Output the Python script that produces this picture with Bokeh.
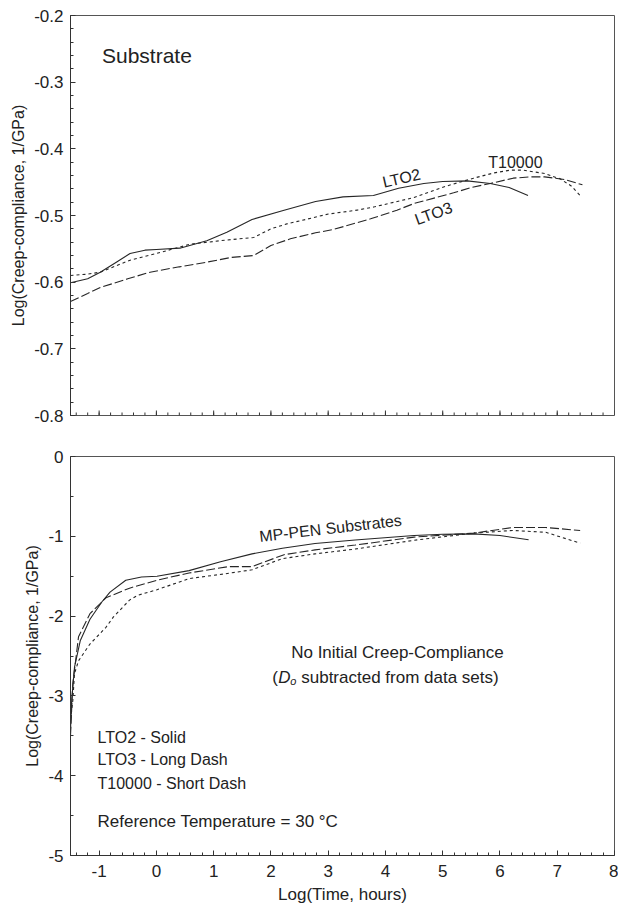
import math

from bokeh.embed import file_html
from bokeh.layouts import column
from bokeh.models import CustomJSTickFormatter, FixedTicker, Label
from bokeh.plotting import figure
from bokeh.resources import INLINE

FONT = "Liberation Sans"
INK = "#222222"

# ---- Substrate creep compliance (log scale, total) ----
top_lto2_x = [-1.5, -1.2, -0.98, -0.7, -0.46, -0.2, 0.0, 0.41, 0.88, 1.23, 1.67, 2.23,
              2.78, 3.26, 3.79, 4.23, 4.67, 5.0, 5.43, 5.83, 6.16, 6.49]
top_lto2_y = [-0.601, -0.595, -0.585, -0.570, -0.557, -0.552, -0.551, -0.549, -0.538,
              -0.525, -0.506, -0.492, -0.479, -0.472, -0.470, -0.459, -0.452, -0.449,
              -0.448, -0.452, -0.458, -0.470]

top_lto3_x = [-1.5, -1.2, -0.98, -0.5, -0.11, 0.4, 0.88, 1.3, 1.7, 2.0, 2.34, 2.78, 3.09,
              3.74, 4.2, 4.5, 5.19, 5.5, 5.83, 6.23, 6.53, 6.78, 7.13, 7.44]
top_lto3_y = [-0.629, -0.617, -0.608, -0.595, -0.585, -0.577, -0.570, -0.563, -0.560,
              -0.545, -0.535, -0.526, -0.521, -0.505, -0.492, -0.482, -0.466, -0.458,
              -0.452, -0.444, -0.442, -0.442, -0.446, -0.454]

top_t10000_x = [-1.5, -1.2, -0.98, -0.46, 0.0, 0.59, 1.2, 1.7, 2.0, 2.3, 2.51, 2.99, 3.5,
                3.81, 4.5, 5.06, 5.54, 5.9, 6.18, 6.4, 6.78, 7.05, 7.25, 7.41]
top_t10000_y = [-0.590, -0.588, -0.585, -0.567, -0.557, -0.543, -0.537, -0.533, -0.520,
                -0.512, -0.508, -0.498, -0.492, -0.487, -0.473, -0.456, -0.444, -0.436,
                -0.432, -0.432, -0.437, -0.445, -0.456, -0.471]

# ---- MP-PEN substrates, initial compliance removed ----
bot_lto2_x = [-1.5, -1.48, -1.43, -1.33, -1.16, -0.95, -0.81, -0.535, -0.26, 0.01, 0.57,
              1.12, 1.67, 2.2, 2.77, 3.47, 4.5, 5.0, 5.54, 6.0, 6.5]
bot_lto2_y = [-3.43, -3.06, -2.64, -2.31, -2.04, -1.82, -1.70, -1.55, -1.51, -1.50, -1.43,
              -1.32, -1.22, -1.15, -1.09, -1.046, -0.99, -0.975, -0.969, -0.99, -1.044]

bot_lto3_x = [-1.5, -1.46, -1.36, -1.16, -0.88, -0.47, 0.01, 0.57, 1.26, 1.67, 2.23, 2.77,
              3.47, 4.5, 5.54, 6.22, 6.8, 7.4]
bot_lto3_y = [-3.5, -2.85, -2.26, -1.97, -1.77, -1.65, -1.55, -1.46, -1.38, -1.38, -1.23,
              -1.17, -1.11, -1.01, -0.96, -0.89, -0.89, -0.927]

bot_t10000_x = [-1.5, -1.46, -1.43, -1.36, -1.16, -0.88, -0.75, -0.47, -0.33, 0.01, 0.57,
                1.2, 1.67, 2.2, 2.77, 3.47, 4.5, 5.54, 6.22, 6.8, 7.4]
bot_t10000_y = [-3.3, -3.06, -2.72, -2.56, -2.35, -2.14, -2.01, -1.80, -1.74, -1.67, -1.53,
                -1.47, -1.42, -1.28, -1.22, -1.16, -1.05, -0.96, -0.927, -0.95, -1.086]

x_major = [-1, 0, 1, 2, 3, 4, 5, 6, 7, 8]
x_minor = [round(-1.4 + 0.2 * i, 1) for i in range(47)]
top_y_major = [-0.8, -0.7, -0.6, -0.5, -0.4, -0.3, -0.2]
top_y_minor = [round(-0.8 + 0.02 * i, 2) for i in range(31)]
bot_y_major = [-5, -4, -3, -2, -1, 0]
bot_y_minor = [-4.5, -3.5, -2.5, -1.5, -0.5]

Y_TITLE = "Log(Creep-compliance, 1/GPa)"

# plain hyphen-minus tick labels
HYPHEN_FMT = "return String(Math.round(tick * 100) / 100);"


def style_axis(ax):
    ax.axis_line_color = "#333333"
    ax.axis_line_width = 1
    ax.major_tick_in = 5
    ax.major_tick_out = 0
    ax.minor_tick_in = 3
    ax.minor_tick_out = 0
    ax.major_tick_line_color = "#333333"
    ax.minor_tick_line_color = "#333333"
    ax.major_label_text_font = FONT
    ax.major_label_text_font_size = "17px"
    ax.major_label_text_color = INK
    ax.axis_label_text_font = FONT
    ax.axis_label_text_font_size = "16px"
    ax.axis_label_text_font_style = "normal"
    ax.axis_label_text_color = INK
    ax.formatter = CustomJSTickFormatter(code=HYPHEN_FMT)


def base_figure(height, y_range, y_major, y_minor, border_top, border_bottom):
    p = figure(width=618, height=height, x_range=(-1.5, 8), y_range=y_range,
               output_backend="svg", toolbar_location=None,
               min_border_left=70, min_border_right=4, min_border_top=border_top,
               min_border_bottom=border_bottom)
    p.outline_line_color = "#555555"
    p.outline_line_width = 1
    p.grid.visible = False
    p.yaxis.ticker = FixedTicker(ticks=y_major, minor_ticks=y_minor)
    style_axis(p.yaxis[0])
    p.yaxis.major_label_standoff = 7
    p.yaxis.axis_label = Y_TITLE
    p.yaxis.axis_label_standoff = 4
    return p


def add_text(p, x, y, text, size="16px", align="left", baseline="alphabetic",
             angle=0.0, style="normal", dx=0, dy=0):
    p.add_layout(Label(x=x, y=y, text=text, text_font=FONT, text_font_size=size,
                       text_color=INK, text_align=align, text_baseline=baseline,
                       angle=angle, text_font_style=style, x_offset=dx, y_offset=dy))


def draw_series(p, xs, ys, dash):
    p.line(xs, ys, line_color="#262626", line_width=1.1, line_dash=dash)


# ---------------- upper panel ----------------
top = base_figure(435, (-0.8, -0.2), top_y_major, top_y_minor, 15, 20)
# the upper panel shares the time axis below it: ticks only, no labels
top.xaxis.visible = False
top.ray(x=x_major, y=-0.8, length=5, length_units="screen", angle=math.pi / 2,
        line_color="#333333", line_width=1)
top.ray(x=x_minor, y=-0.8, length=3, length_units="screen", angle=math.pi / 2,
        line_color="#333333", line_width=1)

draw_series(top, top_lto2_x, top_lto2_y, "solid")
draw_series(top, top_lto3_x, top_lto3_y, "9 3")
draw_series(top, top_t10000_x, top_t10000_y, "3 3")

add_text(top, -0.95, -0.26, "Substrate", size="21px")
add_text(top, 6.27, -0.421, "T10000", align="center")
add_text(top, 4.28, -0.444, "LTO2", align="center", baseline="middle",
         angle=math.radians(13))
add_text(top, 4.84, -0.497, "LTO3", align="center", baseline="middle",
         angle=math.radians(20))

# ---------------- lower panel ----------------
bot = base_figure(473, (-5, 0), bot_y_major, bot_y_minor, 21, 53)
bot.xaxis.ticker = FixedTicker(ticks=x_major, minor_ticks=x_minor)
style_axis(bot.xaxis[0])
bot.xaxis.axis_label = "Log(Time, hours)"
bot.xaxis.axis_label_text_font_size = "17px"
bot.xaxis.major_label_standoff = 9
bot.xaxis.axis_label_standoff = 5

draw_series(bot, bot_lto2_x, bot_lto2_y, "solid")
draw_series(bot, bot_lto3_x, bot_lto3_y, "9 3")
draw_series(bot, bot_t10000_x, bot_t10000_y, "3 3")

add_text(bot, 3.04, -0.90, "MP-PEN Substrates", align="center", baseline="middle",
         angle=math.radians(6.5))
add_text(bot, 4.21, -2.452, "No Initial Creep-Compliance", size="17px", align="center")
# "(D_o subtracted from data sets)" built from pieces for the italic subscript
add_text(bot, 2.023, -2.766, "(", size="17px")
add_text(bot, 2.023, -2.766, "D", size="17px", style="italic", dx=6)
add_text(bot, 2.023, -2.766, "o", size="11px", style="italic", dx=18, dy=-4)
add_text(bot, 2.023, -2.766, "subtracted from data sets)", size="17px", dx=29)

add_text(bot, -1.028, -3.517, "LTO2 - Solid")
add_text(bot, -1.028, -3.80, "LTO3 - Long Dash")
add_text(bot, -1.028, -4.094, "T10000 - Short Dash")
add_text(bot, -1.028, -4.57, "Reference Temperature = 30 \u00b0C", size="17px")

layout = column(top, bot, spacing=0)
open("out.html", "w").write(file_html(layout, INLINE))
